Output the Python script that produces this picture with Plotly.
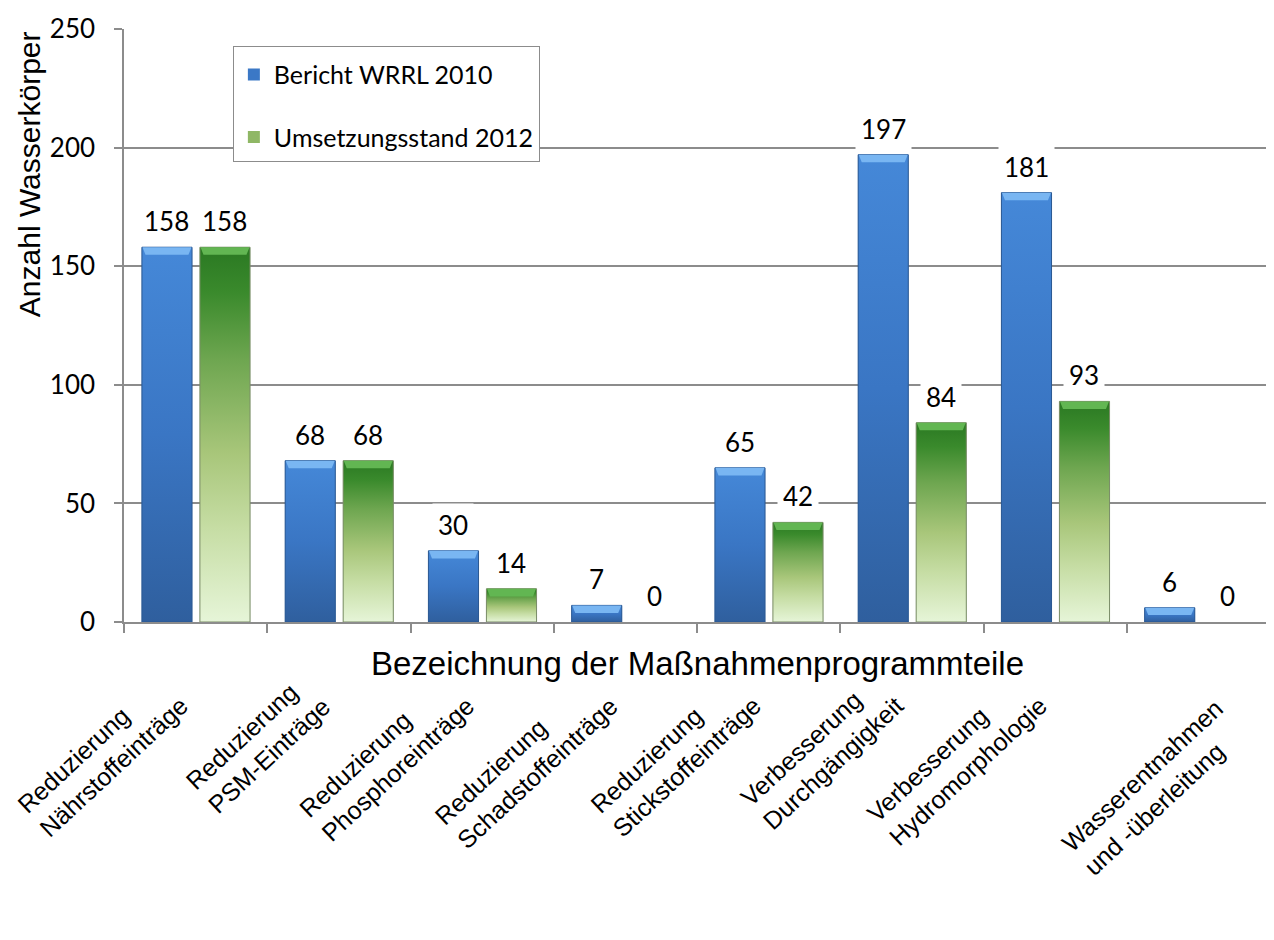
import plotly.graph_objects as go

# ---- data ----
categories = [
    "Reduzierung<br>Nährstoffeinträge",
    "Reduzierung<br>PSM-Einträge",
    "Reduzierung<br>Phosphoreinträge",
    "Reduzierung<br>Schadstoffeinträge",
    "Reduzierung<br>Stickstoffeinträge",
    "Verbesserung<br>Durchgängigkeit",
    "Verbesserung<br>Hydromorphologie",
    "Wasserentnahmen<br>und -überleitung",
]
bericht_2010 = [158, 68, 30, 7, 65, 197, 181, 6]
umsetzung_2012 = [158, 68, 14, 0, 42, 84, 93, 0]
y_ticks = [0, 50, 100, 150, 200, 250]
series_names = ["Bericht WRRL 2010", "Umsetzungsstand 2012"]

# ---- styling ----
NUM_FONT = "Lato, Liberation Sans, sans-serif"
TXT_FONT = "Liberation Sans, Arial, sans-serif"
GRID = "#8c8c8c"
BAR_W = 0.35
OFFSETS = [-0.375, 0.03]
LABEL_ANGLE = -43
LABEL_SIZE = 25
styles = [
    dict(fill="#3b78c6", border="#2b5892", band="#79b6f2",
         scale=[[0, "#2f5f9e"], [0.5, "#3a76c4"], [1, "#4588d8"]]),
    dict(fill="#8fb765", border="#7a8c68", band="#62b652",
         scale=[[0, "#e6f5d8"], [0.25, "#c6dda4"], [0.45, "#a8c67a"],
                [0.7, "#6ea650"], [0.88, "#3a8a2c"], [1, "#2a7822"]]),
]
# label whose first line is the longer one (anchored differently)
FIRST_LINE_LONGER = {7}

idx = list(range(len(categories)))
fig = go.Figure()

all_series = [bericht_2010, umsetzung_2012]
for vals, name, st, off in zip(all_series, series_names, styles, OFFSETS):
    fig.add_trace(go.Bar(
        x=idx, y=vals, name=name, offset=off, width=BAR_W,
        marker=dict(color=st["fill"], line=dict(width=0)),
        legendgroup=name,
    ))

# gradient overlays and bevel highlight, derived from the data
ins = 0.025
band = 3.2
for vals, st, off in zip(all_series, styles, OFFSETS):
    for i, v in zip(idx, vals):
        if v <= 0:
            continue
        x0 = i + off
        x1 = x0 + BAR_W
        fig.add_trace(go.Scatter(
            x=[x0, x1, x1, x0, x0], y=[0, 0, v, v, 0],
            mode="lines", fill="toself",
            fillgradient=dict(type="vertical", colorscale=st["scale"]),
            line=dict(color=st["border"], width=1),
            hoverinfo="skip", showlegend=False,
        ))
        b = min(band, v * 0.5)
        fig.add_trace(go.Scatter(
            x=[x0 + 0.004, x1 - 0.004, x1 - ins, x0 + ins, x0 + 0.004],
            y=[v, v, v - b, v - b, v],
            mode="lines", fill="toself", fillcolor=st["band"],
            line=dict(width=0), hoverinfo="skip", showlegend=False,
        ))

annotations = []
# data labels
for vals, off in zip(all_series, OFFSETS):
    for i, v in zip(idx, vals):
        annotations.append(dict(
            x=i + off + BAR_W / 2, y=v, xref="x", yref="y",
            text=str(v), showarrow=False, yanchor="bottom", yshift=4,
            bgcolor="white", borderpad=5,
            font=dict(family=NUM_FONT, size=26, color="black"),
        ))
# category labels
for i, c in zip(idx, categories):
    if i in FIRST_LINE_LONGER:
        xs, ys = 55, 0
    else:
        xs, ys = 0, 26
    annotations.append(dict(
        x=i, y=-0.1163, xref="x", yref="paper",
        xshift=xs, yshift=ys,
        text=c, showarrow=False, textangle=LABEL_ANGLE,
        xanchor="right", yanchor="top", align="left",
        font=dict(family=TXT_FONT, size=LABEL_SIZE, color="black"),
    ))
# axis titles
annotations.append(dict(
    x=-0.083, y=0.755, xref="paper", yref="paper",
    text="Anzahl Wasserkörper", showarrow=False, textangle=-90,
    xanchor="center", yanchor="middle",
    font=dict(family=TXT_FONT, size=30, color="black"),
))
annotations.append(dict(
    x=0.5, y=-0.07, xref="paper", yref="paper",
    text="Bezeichnung der Maßnahmenprogrammteile", showarrow=False,
    xanchor="center", yanchor="middle",
    font=dict(family=TXT_FONT, size=33, color="black"),
))

fig.update_layout(
    width=1266, height=932,
    margin=dict(l=116, r=4, t=12, b=318),
    paper_bgcolor="white", plot_bgcolor="white",
    barmode="overlay",
    showlegend=True,
    legend=dict(
        x=0.095, y=0.972, xanchor="left", yanchor="top",
        bordercolor="#8c8c8c", borderwidth=1, bgcolor="white",
        font=dict(family=NUM_FONT, size=25, color="black"),
        title=dict(text=" ", font=dict(size=4)),
        tracegroupgap=27, itemwidth=30,
    ),
    annotations=annotations,
    xaxis=dict(
        range=[-0.5, len(categories) - 0.5],
        tickvals=[k - 0.5 for k in range(len(categories) + 1)],
        ticktext=[""] * (len(categories) + 1),
        ticks="outside", ticklen=9, tickcolor=GRID, tickwidth=1.5,
        showline=True, linecolor=GRID, linewidth=1.5,
        showgrid=False, zeroline=False, fixedrange=True,
    ),
    yaxis=dict(
        range=[0, 250], tickvals=y_ticks,
        ticks="outside", ticklen=8, tickcolor=GRID, tickwidth=1.5,
        showline=True, linecolor=GRID, linewidth=1.5,
        showgrid=True, gridcolor=GRID, gridwidth=1.5,
        zeroline=False, ticklabelstandoff=14,
        ticklabeloverflow="allow",
        tickfont=dict(family=NUM_FONT, size=26, color="black"),
    ),
)

fig.write_html("out.html")
